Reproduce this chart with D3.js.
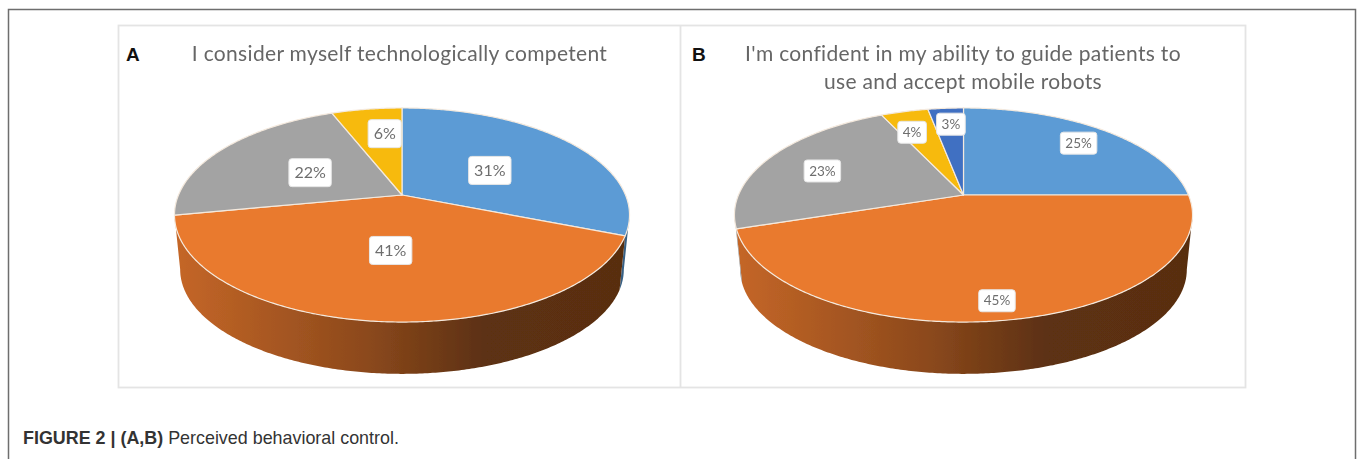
<!DOCTYPE html>
<html lang="en">
<head>
    <meta charset="UTF-8">
    <title>Perceived behavioral control</title>
    <script src="https://d3js.org/d3.v7.min.js"></script>
    <style>
        html, body { margin: 0; padding: 0; background: #fff; }
        svg { display: block; }
    </style>
</head>
<body>
    <svg id="chart" width="1358" height="459"></svg>

    <script>
        const valuesA = [31, 41, 22, 6];
        const valuesB = [25, 45, 23, 4, 3];
        const colorsA = ["#5b9bd5", "#e97a2e", "#a3a3a3", "#f7ba0b"];
        const colorsB = ["#5b9bd5", "#e97a2e", "#a3a3a3", "#f7ba0b", "#3f6fc2"];
        const titleA = ["I consider myself technologically competent"];
        const titleB = ["I'm confident in my ability to guide patients to", "use and accept mobile robots"];

        // where each label sits: fraction of the radius, then a small nudge
        const labelSpotsA = [[0.5, 0, 3], [0.49, 0, 0], [0.49, 0, 1], [0.68, 8, 0]];
        const labelSpotsB = [[0.8, 0, 1], [0.87, -3, 0], [0.72, 0, 4], [0.72, -7, 0], [0.79, 2, 0]];

        // how dark the wall of a slice gets on its right side
        const wallDarkest = [0.62, 0.38, 0.6, 0.6, 0.6];

        const svg = d3.select("#chart");
        const defs = svg.append("defs");

        // the reference is a slightly soft scan
        defs.append("filter")
            .attr("id", "soft")
            .append("feGaussianBlur")
            .attr("stdDeviation", 0.4);

        const k = 0.187;          // perspective of the tilted disc
        const sideStart = Math.acos(-k);              // angle where the wall starts to show
        const sideEnd = 2 * Math.PI - Math.acos(-k);  // and where it stops

        // frame
        svg.append("path")
            .attr("d", "M8.5,459V9.5H1355.5V459")
            .attr("fill", "none")
            .attr("stroke", "#6e6e6e")
            .attr("stroke-width", 1.5);

        svg.append("rect")
            .attr("x", 118.5).attr("y", 25.5)
            .attr("width", 1127).attr("height", 362)
            .attr("fill", "#fff")
            .attr("stroke", "#e4e4e4")
            .attr("stroke-width", 1.8);

        svg.append("line")
            .attr("x1", 680.5).attr("x2", 680.5)
            .attr("y1", 25.5).attr("y2", 387.5)
            .attr("stroke", "#e4e4e4")
            .attr("stroke-width", 1.8);

        function drawPie(id, values, colors, spots, cx, cy, a, b, labelFont, labelPadX, labelH) {
            const g = svg.append("g").attr("filter", "url(#soft)");

            const x = d3.scaleLinear().domain([-1, 1]).range([cx - a, cx + a]);
            const y = d3.scaleLinear().domain([-1, 1]).range([cy - b, cy + b]);
            const xLow = d3.scaleLinear().domain([-1, 1]).range([cx - a * 0.975, cx + a * 0.975]);
            const yLow = d3.scaleLinear().domain([-1, 1]).range([250 - b * 0.975, 250 + b * 0.975]);

            // angle (clockwise from 12 o'clock) and radius -> tilted disc
            function project(angle, r, sx, sy) {
                const u = r * Math.sin(angle);
                const v = -r * Math.cos(angle);
                const w = 1 - k * v;
                return [sx(u / w), sy(v / w)];
            }

            const arcs = d3.pie().sort(null)(values);
            const line = d3.line();

            function sample(a0, a1) {
                const n = Math.max(2, Math.ceil((a1 - a0) / 0.01));
                return d3.range(n + 1).map(i => a0 + (a1 - a0) * i / n);
            }

            // walls first
            arcs.forEach(function(d, i) {
                const a0 = Math.max(d.startAngle, sideStart);
                const a1 = Math.min(d.endAngle, sideEnd);
                if (a1 <= a0) return;

                const c = d3.rgb(colors[i]);
                const shade = f => d3.rgb(c.r * f, c.g * f, c.b * f).formatRgb();
                const gradId = id + "wall" + i;
                const grad = defs.append("linearGradient")
                    .attr("id", gradId)
                    .attr("gradientUnits", "userSpaceOnUse")
                    .attr("x1", cx - a).attr("x2", cx + a)
                    .attr("y1", 0).attr("y2", 0);
                grad.append("stop").attr("offset", "0%").attr("stop-color", shade(0.84));
                grad.append("stop").attr("offset", "42%").attr("stop-color", shade(0.6));
                grad.append("stop").attr("offset", "68%").attr("stop-color", shade(Math.max(0.4, wallDarkest[i])));
                grad.append("stop").attr("offset", "100%").attr("stop-color", shade(wallDarkest[i]));

                const angles = sample(a0, a1);
                const upper = angles.map(t => project(t, 1, x, y));
                const lower = angles.map(t => project(t, 1, xLow, yLow)).reverse();
                g.append("path")
                    .attr("d", line(upper.concat(lower)) + "Z")
                    .attr("fill", "url(#" + gradId + ")");
            });

            // top face
            g.selectAll(".slice")
                .data(arcs)
                .enter().append("path")
                .attr("class", "slice")
                .attr("d", function(d) {
                    const pts = sample(d.startAngle, d.endAngle).map(t => project(t, 1, x, y));
                    return line([[x(0), y(0)]].concat(pts)) + "Z";
                })
                .attr("fill", (d, i) => colors[i])
                .attr("stroke", "#f4e9dd")
                .attr("stroke-width", 1.2)
                .attr("stroke-linejoin", "round");

            // value labels
            arcs.forEach(function(d, i) {
                const spot = spots[i];
                const p = project((d.startAngle + d.endAngle) / 2, spot[0], x, y);
                const px = p[0] + spot[1];
                const py = p[1] + spot[2];

                const box = g.append("rect").attr("fill", "#fff").attr("stroke", "#e6e6e6")
                    .attr("rx", 3).attr("ry", 3);
                const text = g.append("text")
                    .attr("x", px).attr("y", py)
                    .attr("dy", "0.35em")
                    .attr("text-anchor", "middle")
                    .attr("font-family", "Lato, 'Open Sans', sans-serif")
                    .attr("font-size", labelFont)
                    .attr("fill", "#6e6e6e")
                    .text(d.data + "%");
                const tw = text.node().getComputedTextLength();
                box.attr("x", px - tw / 2 - labelPadX).attr("y", py - labelH / 2)
                    .attr("width", tw + 2 * labelPadX).attr("height", labelH);
            });
        }

        function drawTitle(lines, cx, y0, step) {
            svg.selectAll(null)
                .data(lines)
                .enter().append("text")
                .attr("x", cx)
                .attr("y", (d, i) => y0 + i * step)
                .attr("text-anchor", "middle")
                .attr("font-family", "Lato, 'Open Sans', sans-serif")
                .attr("font-size", 21)
                .attr("letter-spacing", 0.32)
                .attr("fill", "#666")
                .attr("filter", "url(#soft)")
                .text(d => d);
        }

        function drawLetter(letter, x0) {
            svg.append("text")
                .attr("x", x0).attr("y", 61)
                .attr("font-family", "'Liberation Sans', Arial, sans-serif")
                .attr("font-weight", "bold")
                .attr("font-size", 19)
                .attr("fill", "#111")
                .text(letter);
        }

        drawPie("a", valuesA, colorsA, labelSpotsA, 402, 195, 223.5, 103.3, 16, 5.5, 28);
        drawPie("b", valuesB, colorsB, labelSpotsB, 963.5, 195, 225, 103.3, 13.5, 5, 22);

        drawTitle(titleA, 399.5, 61, 28);
        drawTitle(titleB, 963, 61, 28);
        drawLetter("A", 126);
        drawLetter("B", 692);

        // caption
        const caption = svg.append("text")
            .attr("x", 23).attr("y", 444)
            .attr("font-family", "'Liberation Sans', Arial, sans-serif")
            .attr("font-size", 17.9)
            .attr("fill", "#333");
        caption.append("tspan").attr("font-weight", "bold").text("FIGURE 2 | (A,B)");
        caption.append("tspan").text(" Perceived behavioral control.");
    </script>
</body>
</html>
